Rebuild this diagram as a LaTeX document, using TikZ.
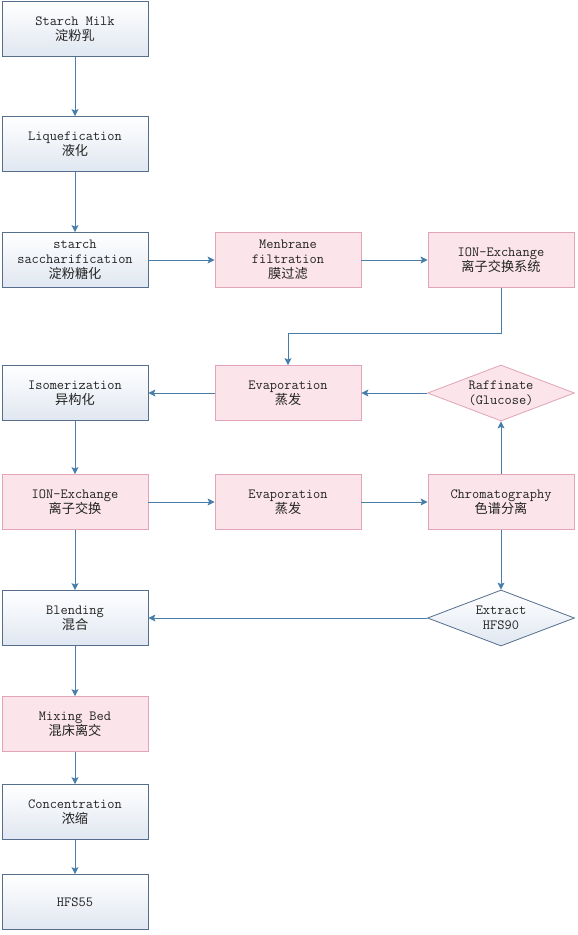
\documentclass[tikz,border=0pt]{standalone}
\usepackage{fontspec}
\newfontfamily\cjk{Noto Sans CJK SC}
\usetikzlibrary{arrows.meta, shapes.geometric}
\definecolor{blueline}{RGB}{84,110,140}
\definecolor{bluefill}{RGB}{224,231,241}
\definecolor{pinkline}{RGB}{226,164,182}
\definecolor{pinkfill}{RGB}{251,228,234}
\definecolor{flowline}{RGB}{70,125,170}
\definecolor{txt}{RGB}{35,35,35}
\newcommand{\zh}[1]{{\cjk\fontsize{13.2}{15}\selectfont #1}}

\begin{document}
\begin{tikzpicture}[x = 1pt, y = -1pt,
        box/.style = {rectangle, minimum width = 146pt, minimum height = 55pt, inner sep = 0pt, align = center,
                      font = \ttfamily\fontsize{14}{15}\selectfont, text = txt, line width = 0.8pt},
        bluebox/.style = {box, draw = blueline, top color = white, bottom color = bluefill},
        pinkbox/.style = {box, draw = pinkline, fill = pinkfill},
        choice/.style = {diamond, aspect = 2.6, minimum width = 147pt, minimum height = 56pt, inner sep = 0pt, align = center,
                         font = \ttfamily\fontsize{14}{15}\selectfont, text = txt, line width = 0.8pt, draw = #1},
        flow/.style = {draw = flowline, line width = 1pt, -{Stealth[length = 7pt, width = 7pt, inset = 1.5pt]}}]
    \useasboundingbox (0, 0) rectangle (578, 935);
    \fill[white] (0, 0) rectangle (578, 935);

    \node (milk)    at (75, 29)   [bluebox] {Starch Milk\\\zh{淀粉乳}};
    \node (liquef)  at (75, 144)  [bluebox] {Liquefication\\\zh{液化}};
    \node (sacch)   at (75, 260)  [bluebox] {starch\\saccharification\\\zh{淀粉糖化}};
    \node (isomer)  at (75, 393)  [bluebox] {Isomerization\\\zh{异构化}};
    \node (ionex)   at (75, 502)  [pinkbox] {ION-Exchange\\\zh{离子交换}};
    \node (blend)   at (75, 618)  [bluebox] {Blending\\\zh{混合}};
    \node (mixbed)  at (75, 724)  [pinkbox] {Mixing Bed\\\zh{混床离交}};
    \node (concen)  at (75, 812)  [bluebox] {Concentration\\\zh{浓缩}};
    \node (hfsff)   at (75, 902)  [bluebox] {HFS55};

    \node (membr)   at (288, 260) [pinkbox] {Menbrane\\filtration\\\zh{膜过滤}};
    \node (evapa)   at (288, 393) [pinkbox] {Evaporation\\\zh{蒸发}};
    \node (evapb)   at (288, 502) [pinkbox] {Evaporation\\\zh{蒸发}};

    \node (ionsys)  at (501, 260) [pinkbox] {ION-Exchange\\\zh{离子交换系统}};
    \node (raff)    at (501, 393) [choice = pinkline, fill = pinkfill] {Raffinate\\(Glucose)};
    \node (chrom)   at (501, 502) [pinkbox] {Chromatography\\\zh{色谱分离}};
    \node (extract) at (501, 618) [choice = blueline, top color = white, bottom color = bluefill] {Extract\\HFS90};

    \draw[flow] (milk) -- (liquef);
    \draw[flow] (liquef) -- (sacch);
    \draw[flow] (sacch) -- (membr);
    \draw[flow] (membr) -- (ionsys);
    \draw[flow] (ionsys.south) -- ++(0, 46) -| (evapa.north);
    \draw[flow] (raff) -- (evapa);
    \draw[flow] (evapa) -- (isomer);
    \draw[flow] (isomer) -- (ionex);
    \draw[flow] (ionex) -- (evapb);
    \draw[flow] (evapb) -- (chrom);
    \draw[flow] (chrom) -- (raff);
    \draw[flow] (chrom) -- (extract);
    \draw[flow] (extract) -- (blend);
    \draw[flow] (ionex) -- (blend);
    \draw[flow] (blend) -- (mixbed);
    \draw[flow] (mixbed) -- (concen);
    \draw[flow] (concen) -- (hfsff);
\end{tikzpicture}
\end{document}
